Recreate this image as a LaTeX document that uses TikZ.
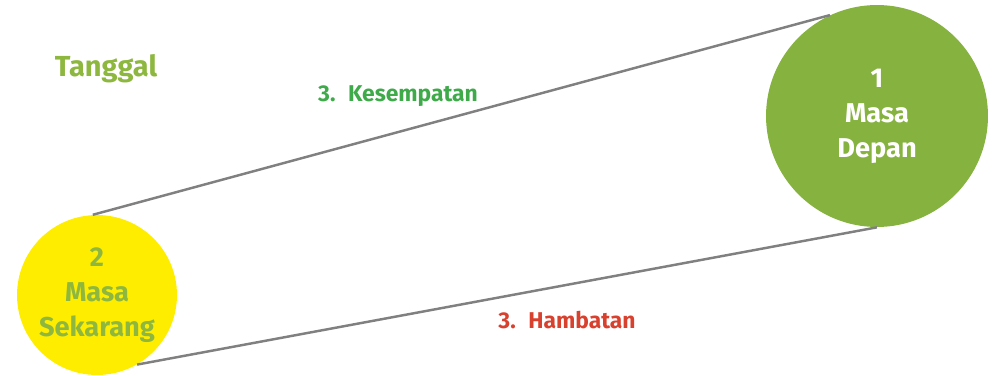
\documentclass[tikz,border=0pt]{standalone}
\usepackage{fontspec}
\setmainfont{Fira Sans}
\usepackage{tikz}
\colorlet{lcol}{black!50!white}
\definecolor{colG}{rgb}{.525,.698,.251}
\definecolor{colY}{rgb}{1,.929,0}
\definecolor{colT}{rgb}{.553,.718,.247}
\definecolor{colK}{rgb}{.247,.667,.29}
\definecolor{colR}{rgb}{.851,.255,.184}
\tikzstyle{bulat}=[circle, inner sep=0pt, align=center, font=\bfseries\fontsize{15.5}{20}\selectfont]
\tikzstyle{garis}=[line width=1.4pt,lcol]
\tikzstyle{judul}=[anchor=base, inner sep=0pt, font=\bfseries\fontsize{13}{16}\selectfont]

\begin{document}
\begin{tikzpicture}[x=0.02cm,y=-0.02cm]
		\useasboundingbox (0,0) rectangle (993,375);
		\node[bulat, fill=colY, text=colT, minimum size=3.2cm] (now) at (97,295) {2\\Masa\\Sekarang};
		\node[bulat, fill=colG, text=white, minimum size=4.44cm] (future) at (877,116) {1\\Masa\\Depan};
		\draw[garis] (now.93)--(future.115) (now.-60)--(future.-90);
		\node[judul, text=colT, font=\bfseries\fontsize{16.5}{20}\selectfont] (tgl) at (106,77) {Tanggal};
		\node[judul, text=colK] (ksm) at (398,102) {3.\hspace{0.55em}Kesempatan};
		\node[judul, text=colR] (hmb) at (567,328) {3.\hspace{0.55em}Hambatan};
	\end{tikzpicture}
\end{document}
